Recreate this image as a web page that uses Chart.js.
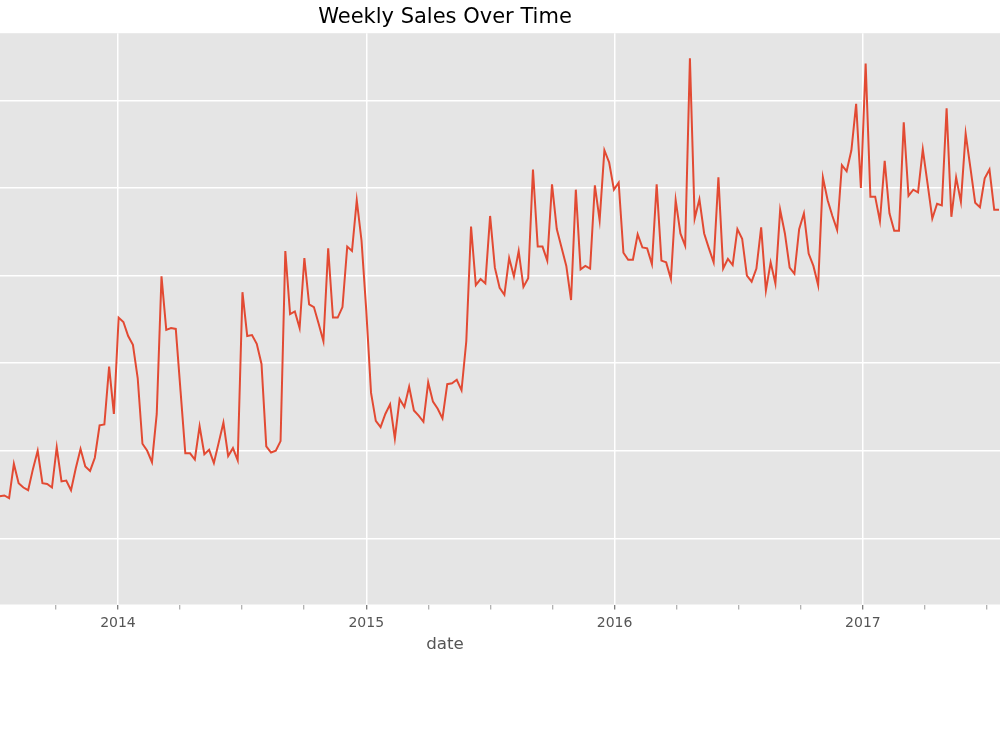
<!DOCTYPE html>
<html>
<head>
<meta charset="utf-8">
<title>Weekly Sales Over Time</title>
<script src="https://cdn.jsdelivr.net/npm/chart.js@4/dist/chart.umd.min.js"></script>
<style>
  html, body { margin: 0; padding: 0; background: #fff; overflow: hidden; }
  #wrap { position: absolute; left: -110px; top: 0; width: 1110px; height: 750px; }
</style>
</head>
<body>
<div id="wrap"><canvas id="salesChart" width="1110" height="750"></canvas></div>
<script>
// first week shown, one value per week after it
const startDate = '2013-07-11';

const weeklySales = [
  24800, 24900, 24600, 28500, 26300, 25800, 25500, 27900, 30000, 26300,
  26200, 25800, 30400, 26500, 26600, 25500, 28000, 30200, 28200, 27700,
  29200, 32900, 33000, 39600, 34200, 45200, 44700, 43100, 42100, 38300,
  30800, 30000, 28700, 34200, 49900, 43800, 44000, 43900, 36800, 29700,
  29700, 29000, 32800, 29600, 30100, 28600, 30900, 33200, 29400, 30300,
  28900, 48100, 43100, 43200, 42200, 39900, 30500, 29800, 30000, 31100,
  52800, 45600, 45900, 44000, 52000, 46700, 46400, 44500, 42500, 53100,
  45200, 45200, 46400, 53300, 52800, 58600, 54000, 46000, 36600, 33400,
  32700, 34200, 35300, 31400, 35900, 35000, 37300, 34600, 34000, 33300,
  37800, 35600, 34800, 33700, 37600, 37700, 38100, 36900, 42500, 55600,
  48900, 49600, 49100, 56800, 50900, 48600, 47800, 52000, 49900, 52800,
  48700, 49700, 62100, 53300, 53300, 51700, 60400, 55300, 53200, 51100,
  47200, 59800, 50700, 51100, 50800, 60300, 56300, 64300, 62900, 59800,
  60600, 52600, 51800, 51800, 54700, 53200, 53100, 51300, 60400, 51700,
  51500, 49600, 58600, 54800, 53400, 74800, 56500, 58700, 54800, 53100,
  51500, 61200, 50800, 51900, 51200, 55300, 54200, 50000, 49300, 50800,
  55500, 48300, 51500, 49100, 57500, 54800, 50900, 50200, 55300, 57100,
  52500, 51100, 48900, 61200, 58600, 56800, 55200, 62600, 61900, 64300,
  69600, 60000, 74200, 59000, 59000, 56200, 63100, 57100, 55100, 55100,
  67500, 59100, 59800, 59500, 64400, 60500, 56500, 58200, 58000, 69100,
  56700, 61200, 58400, 66200, 62300, 58300, 57800, 61100, 62100, 57500,
  57500
];

const yearTicks = [2014, 2015, 2016, 2017];
const salesGridLines = [20000, 30000, 40000, 50000, 60000, 70000];

function toDecimalYear(d) {
  const y = d.getUTCFullYear();
  const a = Date.UTC(y, 0, 1);
  const b = Date.UTC(y + 1, 0, 1);
  return y + (d.getTime() - a) / (b - a);
}

const t0 = new Date(startDate + 'T00:00:00Z').getTime();
const points = weeklySales.map(function (v, i) {
  return { x: toDecimalYear(new Date(t0 + i * 7 * 86400000)), y: v };
});

function isYear(v) {
  return yearTicks.some(function (yr) { return Math.abs(v - yr) < 1e-6; });
}

const plotBackground = {
  id: 'plotBackground',
  beforeDraw(chart) {
    const a = chart.chartArea;
    const ctx = chart.ctx;
    ctx.save();
    ctx.fillStyle = '#E5E5E5';
    ctx.fillRect(a.left, a.top, a.right - a.left, a.bottom - a.top);
    ctx.restore();
  }
};

const ctx = document.getElementById('salesChart').getContext('2d');
const chart = new Chart(ctx, {
  type: 'line',
  data: {
    datasets: [{
      label: 'sales',
      data: points,
      borderColor: '#E24A33',
      borderWidth: 2,
      pointRadius: 0,
      tension: 0,
      fill: false
    }]
  },
  options: {
    responsive: false,
    animation: false,
    layout: { padding: { top: 0, left: 0, right: 0, bottom: 97 } },
    plugins: {
      legend: { display: false },
      tooltip: { enabled: false },
      title: {
        display: true,
        text: 'Weekly Sales Over Time',
        color: '#000',
        font: { family: 'DejaVu Sans', size: 21, weight: 'normal' },
        padding: { top: 5, bottom: 3 }
      }
    },
    scales: {
      x: {
        type: 'linear',
        min: 2013.082,
        max: 2017.552,
        border: { display: false },
        grid: {
          color: function (c) { return isYear(c.tick.value) ? '#FFFFFF' : 'rgba(0,0,0,0)'; },
          lineWidth: 1.5,
          drawTicks: true,
          tickLength: 5,
          tickColor: function (c) { return isYear(c.tick.value) ? '#555555' : '#9a9a9a'; },
          tickWidth: 1
        },
        ticks: {
          stepSize: 0.25,
          includeBounds: false,
          autoSkip: false,
          maxRotation: 0,
          padding: 5,
          color: '#555555',
          font: { family: 'DejaVu Sans', size: 14 },
          callback: function (v) { return isYear(v) ? String(Math.round(v)) : ''; }
        },
        title: {
          display: true,
          text: 'date',
          color: '#555555',
          font: { family: 'DejaVu Sans', size: 16.7, lineHeight: 1 },
          padding: { top: 0, bottom: 0 }
        }
      },
      y: {
        min: 12450,
        max: 77660,
        border: { display: false },
        grid: { color: '#FFFFFF', lineWidth: 1.5, drawTicks: false },
        ticks: { display: false },
        afterBuildTicks: function (scale) {
          scale.ticks = salesGridLines.map(function (v) { return { value: v }; });
        }
      }
    }
  },
  plugins: [plotBackground]
});
</script>
</body>
</html>
